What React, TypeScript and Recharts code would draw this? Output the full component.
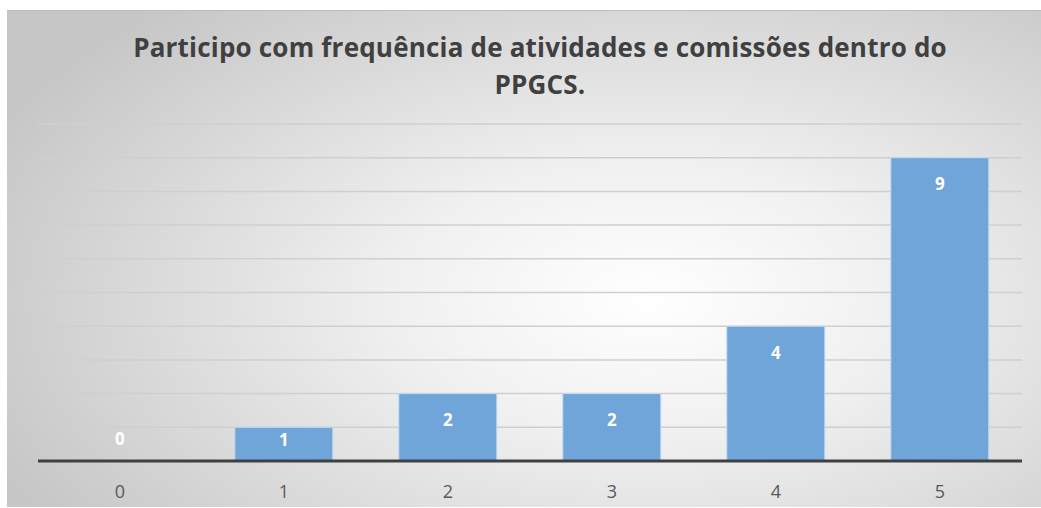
import { BarChart, Bar, XAxis, YAxis, CartesianGrid, LabelList, Cell } from 'recharts'

const categories = ['0', '1', '2', '3', '4', '5']
const counts = [0, 1, 2, 2, 4, 9]
const yTicks = [0, 1, 2, 3, 4, 5, 6, 7, 8, 9, 10]

const titleLines = [
  'Participo com frequência de atividades e comissões dentro do',
  'PPGCS.',
]

const chartData = categories.map((name, i) => ({ name, value: counts[i] }))

const font = '"Open Sans", "DejaVu Sans", sans-serif'

function BarLabel(props: any) {
  const { x, y, width, height, value } = props
  // zero bar: label sits above the axis; short bars: centred-ish; else near top
  const cy = value === 0 ? y - 22 : y + Math.min(26, height / 2 - 5)
  return (
    <text
      x={x + width / 2}
      y={cy}
      textAnchor="middle"
      dominantBaseline="central"
      fill="#ffffff"
      fontFamily={font}
      fontWeight={700}
      fontSize={17}
    >
      {value}
    </text>
  )
}

export default function App() {
  return (
    <div
      style={{
        position: 'absolute',
        left: 7,
        top: 10,
        width: 1034,
        height: 496,
        background:
          'radial-gradient(ellipse 70% 80% at 62% 58%, #ffffff 0%, #f0f0f0 35%, #d6d6d6 75%, #c6c6c6 100%)',
        borderTop: '1px solid #bdbdbd',
        fontFamily: font,
      }}
    >
      <div
        style={{
          position: 'absolute',
          left: 0,
          top: 18,
          width: 1066,
          textAlign: 'center',
          color: '#404040',
          fontWeight: 700,
          fontSize: 26,
          lineHeight: '37px',
          letterSpacing: '0.2px',
        }}
      >
        {titleLines.map((t) => (
          <div key={t}>{t}</div>
        ))}
      </div>
      <BarChart
        width={1034}
        height={496}
        data={chartData}
        margin={{ top: 113, right: 19, bottom: 16, left: 31 }}
        barCategoryGap="20%"
        style={{ position: 'absolute', left: 0, top: 0 }}
      >
        <CartesianGrid vertical={false} stroke="#cfcfcf" strokeWidth={1.5} />
        <YAxis hide domain={[0, 10]} ticks={yTicks} />
        <XAxis
          dataKey="name"
          height={30}
          axisLine={{ stroke: '#404040', strokeWidth: 3 }}
          tickLine={false}
          tick={{ fill: '#595959', fontSize: 18, fontFamily: font }}
          tickMargin={18}
        />
        <Bar
          dataKey="value"
          fill="#6fa5d8"
          stroke="#c4dcf0"
          strokeWidth={1}
          minPointSize={(v: number) => (v === 0 ? 1 : 0)}
          isAnimationActive={false}
        >
          {chartData.map((d) => (
            <Cell
              key={d.name}
              fill={d.value === 0 ? 'none' : '#6fa5d8'}
              stroke={d.value === 0 ? 'none' : '#c4dcf0'}
            />
          ))}
          <LabelList dataKey="value" content={BarLabel} />
        </Bar>
      </BarChart>
    </div>
  )
}
